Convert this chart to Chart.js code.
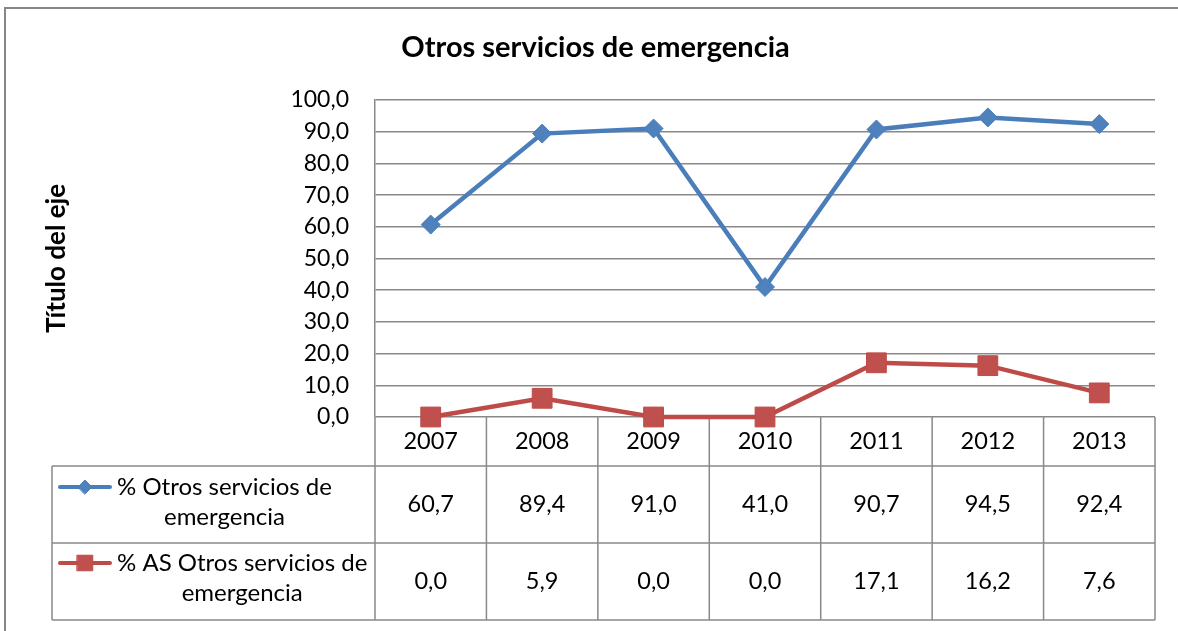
<!DOCTYPE html>
<html><head><meta charset="utf-8">
<script src="https://cdn.jsdelivr.net/npm/chart.js@4.4.1/dist/chart.umd.min.js"></script>
<style>html,body{margin:0;padding:0;background:#fff}#wrap{width:1178px;height:631px}</style>
</head><body><div id="wrap"><canvas id="c" width="1178" height="631"></canvas></div>
<script>
const categories = ['2007', '2008', '2009', '2010', '2011', '2012', '2013'];
const seriesOtros = [60.7, 89.4, 91.0, 41.0, 90.7, 94.5, 92.4];
const seriesAS = [0.0, 5.9, 0.0, 0.0, 17.1, 16.2, 7.6];
const seriesLabels = [['% Otros servicios de', 'emergencia'], ['% AS Otros servicios de', 'emergencia']];
const titleText = 'Otros servicios de emergencia';
const yTitleText = 'Título del eje';

const FONT = 'Lato';
const GRID = '#898989';
const fmt = v => Number(v).toFixed(1).replace('.', ',');

const tablePlugin = {
  id: 'dataTable',
  beforeDraw(chart) {
    const ctx = chart.ctx;
    ctx.save();
    ctx.fillStyle = '#fff';
    ctx.fillRect(0, 0, chart.width, chart.height);
    ctx.strokeStyle = '#868686';
    ctx.lineWidth = 2;
    ctx.beginPath();
    ctx.moveTo(5, chart.height);
    ctx.lineTo(5, 8);
    ctx.lineTo(chart.width, 8);
    ctx.stroke();
    ctx.restore();
  },
  beforeDatasetsDraw(chart) {
    const ctx = chart.ctx, x = chart.scales.x, area = chart.chartArea;
    const half = (x.getPixelForValue(1) - x.getPixelForValue(0)) / 2;
    const top = area.bottom, h1 = top + 49, h2 = top + 126, h3 = top + 203;
    const legLeft = 52;
    ctx.save();
    ctx.strokeStyle = GRID;
    ctx.lineWidth = 1.5;
    ctx.beginPath();
    ctx.moveTo(legLeft, h1); ctx.lineTo(area.right, h1);
    ctx.moveTo(legLeft, h2); ctx.lineTo(area.right, h2);
    ctx.moveTo(legLeft, h3); ctx.lineTo(area.right, h3);
    ctx.moveTo(legLeft, h1); ctx.lineTo(legLeft, h3);
    ctx.moveTo(area.left, top); ctx.lineTo(area.left, h3);
    for (let i = 0; i < categories.length; i++) {
      const b = x.getPixelForValue(i) + half;
      ctx.moveTo(b, top); ctx.lineTo(b, h3);
    }
    ctx.stroke();
    ctx.restore();
  },
  afterDraw(chart) {
    const ctx = chart.ctx, x = chart.scales.x, area = chart.chartArea;
    const top = area.bottom;
    const rows = [
      {data: seriesOtros, label: seriesLabels[0], ds: chart.data.datasets[0], l1: top + 70, l2: top + 100, v: top + 87, keyR: 7},
      {data: seriesAS, label: seriesLabels[1], ds: chart.data.datasets[1], l1: top + 146, l2: top + 176, v: top + 164, keyR: 11}
    ];
    ctx.save();
    ctx.fillStyle = '#000';
    ctx.textBaseline = 'middle';
    rows.forEach(r => {
      ctx.textAlign = 'center';
      ctx.font = '23.5px ' + FONT;
      r.data.forEach((v, i) => ctx.fillText(fmt(v), x.getPixelForValue(i), r.v));
      ctx.font = '24px ' + FONT;
      const w = Math.max(...r.label.map(t => ctx.measureText(t).width));
      const cx = 117 + w / 2;
      ctx.fillText(r.label[0], cx, r.l1);
      ctx.fillText(r.label[1], cx, r.l2);
      ctx.strokeStyle = r.ds.borderColor;
      ctx.lineWidth = 4;
      ctx.lineCap = 'round';
      ctx.beginPath();
      ctx.moveTo(60, r.l1); ctx.lineTo(110, r.l1);
      ctx.stroke();
      ctx.fillStyle = r.ds.pointBackgroundColor;
      ctx.strokeStyle = r.ds.pointBorderColor;
      ctx.lineWidth = 1;
      Chart.helpers.drawPoint(ctx, {pointStyle: r.ds.pointStyle, radius: r.keyR, rotation: 0, borderWidth: 1}, 85, r.l1);
      ctx.fillStyle = '#000';
    });
    ctx.restore();
  }
};

new Chart(document.getElementById('c'), {
  type: 'line',
  data: {
    labels: categories,
    datasets: [
      {label: seriesLabels[0].join(' '), data: seriesOtros, borderColor: '#4A7EBB', backgroundColor: '#4A7EBB',
       borderWidth: 4.5, pointStyle: 'rectRot', pointRadius: 9.5, pointHoverRadius: 9.5, clip: false,
       pointBackgroundColor: '#4F81BD', pointBorderColor: '#4A7EBB', pointBorderWidth: 1, tension: 0},
      {label: seriesLabels[1].join(' '), data: seriesAS, borderColor: '#BE4B48', backgroundColor: '#BE4B48',
       borderWidth: 4.5, pointStyle: 'rect', pointRadius: 14, pointHoverRadius: 14, clip: false,
       pointBackgroundColor: '#C0504D', pointBorderColor: '#BE4B48', pointBorderWidth: 1, tension: 0}
    ]
  },
  options: {
    responsive: false,
    animation: false,
    devicePixelRatio: 1,
    layout: {padding: {left: 36, right: 23, top: 0, bottom: 0}},
    plugins: {
      legend: {display: false},
      tooltip: {enabled: false},
      title: {display: true, text: titleText, color: '#000',
        font: {family: FONT, size: 29, weight: 'bold', lineHeight: 1.2},
        padding: {top: 30.6, bottom: 34.6}}
    },
    scales: {
      x: {
        offset: true,
        grid: {display: false, drawTicks: false},
        border: {display: false},
        ticks: {color: '#000', font: {family: FONT, size: 23.5}, padding: 10, maxRotation: 0, autoSkip: false},
        afterFit(s) { s.height = 214; }
      },
      y: {
        min: 0, max: 100,
        grid: {color: GRID, lineWidth: 1.5, drawTicks: false},
        border: {color: GRID, width: 1.5},
        ticks: {stepSize: 10, color: '#000', font: {family: FONT, size: 23}, padding: 26, callback: v => fmt(v)},
        title: {display: true, text: yTitleText, color: '#000', font: {family: FONT, size: 26, weight: 'bold', lineHeight: 1.2}, padding: {top: 5.4, bottom: 0}},
        afterFit(s) { s.width = 339; }
      }
    }
  },
  plugins: [tablePlugin]
});
</script></body></html>
